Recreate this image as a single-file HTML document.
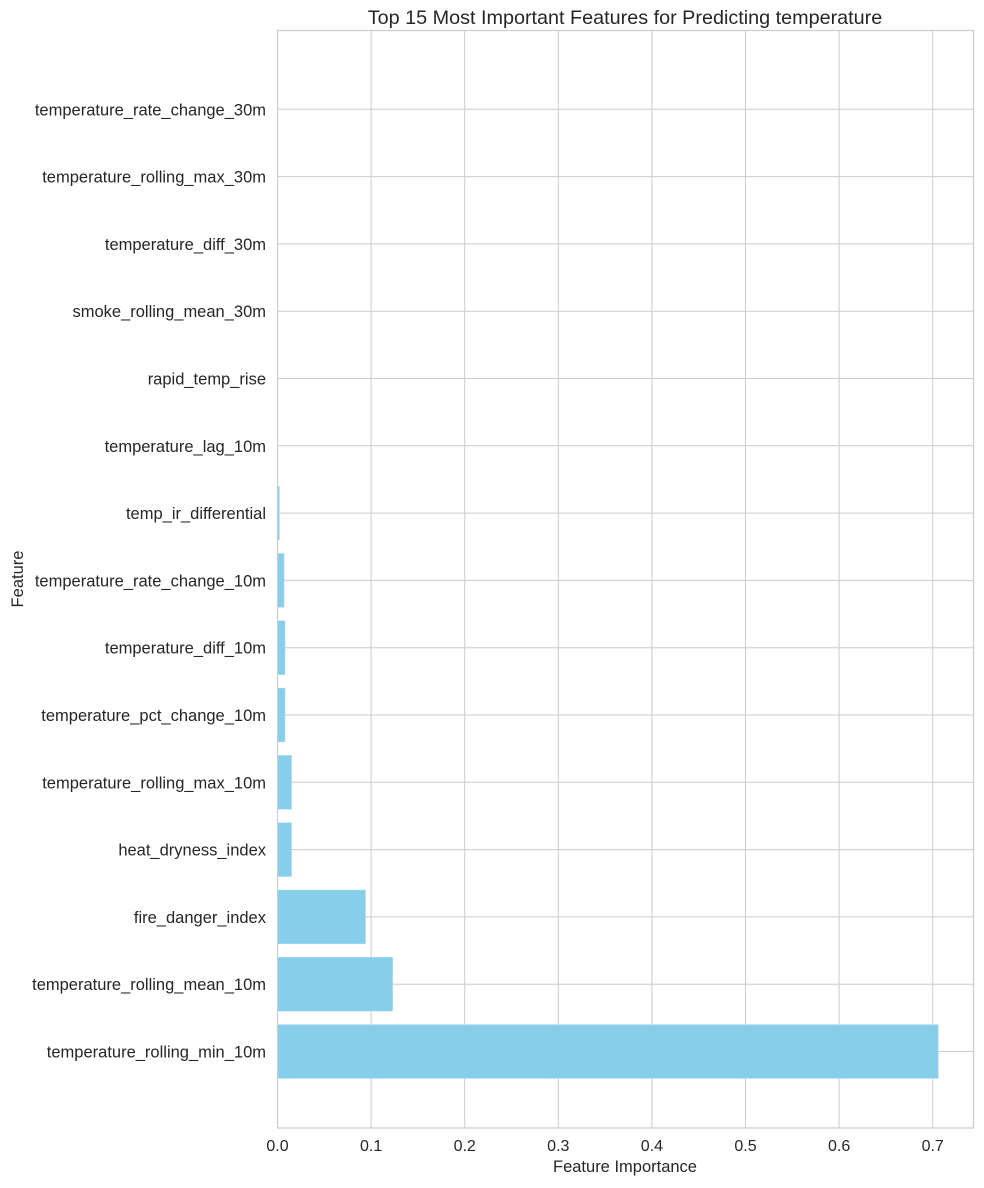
<!DOCTYPE html>
<html><head><meta charset="utf-8"><style>
body{margin:0;background:#fff;}
text{font-family:"Liberation Sans",sans-serif;fill:#262626;}
</style></head><body>
<svg id="chart" width="984" height="1183" xmlns="http://www.w3.org/2000/svg">
<text x="625" y="24" text-anchor="middle" font-size="19.8">Top 15 Most Important Features for Predicting temperature</text>
<g id="grid"></g><g id="bars"></g><g id="ticks"></g>
<rect x="277.5" y="30.5" width="696" height="1097.5" fill="none" stroke="#cccccc" stroke-width="1.2"/>
<text x="625" y="1172" text-anchor="middle" font-size="16.5">Feature Importance</text>
<text x="0" y="0" transform="translate(23,579) rotate(-90)" text-anchor="middle" font-size="16.5">Feature</text>
</svg>
<script>
const features=["temperature_rolling_min_10m","temperature_rolling_mean_10m","fire_danger_index","heat_dryness_index","temperature_rolling_max_10m","temperature_pct_change_10m","temperature_diff_10m","temperature_rate_change_10m","temp_ir_differential","temperature_lag_10m","rapid_temp_rise","smoke_rolling_mean_30m","temperature_diff_30m","temperature_rolling_max_30m","temperature_rate_change_30m"];
const importance=[0.706,0.123,0.094,0.015,0.015,0.008,0.008,0.007,0.002,0,0,0,0,0,0];
const xTicks=[0,0.1,0.2,0.3,0.4,0.5,0.6,0.7];
const xTickLabels=["0.0","0.1","0.2","0.3","0.4","0.5","0.6","0.7"];
const NS="http://www.w3.org/2000/svg";
const X0=277.5,XS=936,Y0=1051.5,YS=67.3,BH=53.8;
const x=v=>X0+v*XS, y=i=>Y0-i*YS;
const grid=document.getElementById('grid'),bars=document.getElementById('bars'),ticks=document.getElementById('ticks');
function mk(tag,attrs,parent){const e=document.createElementNS(NS,tag);for(const k in attrs)e.setAttribute(k,attrs[k]);parent.appendChild(e);return e;}
xTicks.forEach((t,k)=>{
 const l=mk('line',{x1:x(t),x2:x(t),y1:30.5,y2:1128,stroke:'#cccccc','stroke-width':1},grid);
 
 
 const tx=mk('text',{x:x(t),y:1151,'text-anchor':'middle','font-size':16},ticks);
 tx.textContent=xTickLabels[k];
 
 
});
features.forEach((f,i)=>{
 const l=mk('line',{x1:277.5,x2:973.5,y1:y(i),y2:y(i),stroke:'#cccccc','stroke-width':1},grid);
 
 
 const r=mk('rect',{x:X0,y:y(i)-BH/2,width:Math.max(0,x(importance[i])-X0),height:BH,fill:'#87ceeb',stroke:'#a8dcf0','stroke-width':0.5},bars);
 
 
 const tx=mk('text',{x:266,y:y(i)+6,'text-anchor':'end','font-size':16.5},ticks);
 tx.textContent=f;
 
 
});
</script>
</body></html>
